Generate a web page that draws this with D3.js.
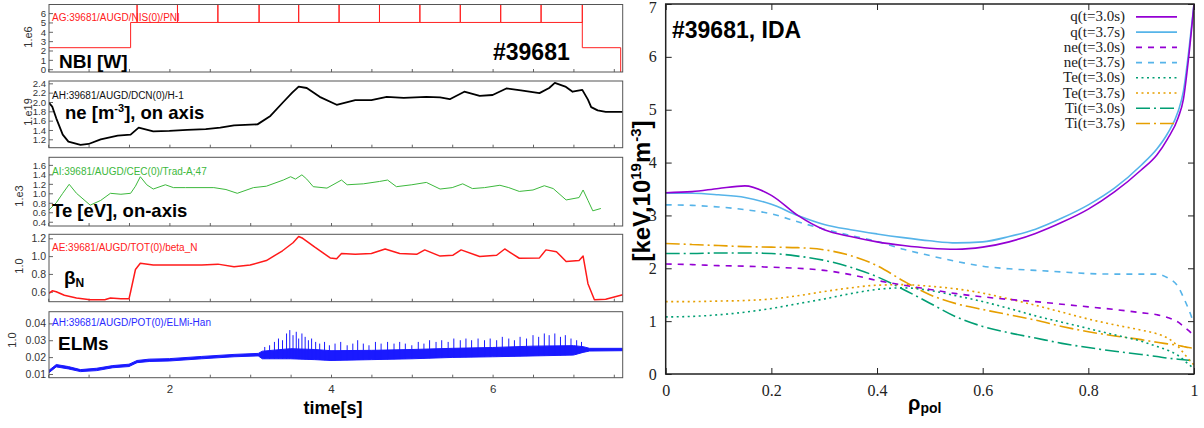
<!DOCTYPE html>
<html><head><meta charset="utf-8">
<script src="https://cdn.jsdelivr.net/npm/d3@7/dist/d3.min.js"></script>
<style>
body{margin:0;background:#fff;}
svg{display:block;}
</style></head>
<body>
<svg id="c" width="1204" height="428"></svg>
<script>
// ---------------- DATA (left: time traces) ----------------
const timeTicks = [2,4,6];
const timeMinor = [0.5,1,1.5,2,2.5,3,3.5,4,4.5,5,5.5,6,6.5,7,7.5];

const nbiTicks = [0,1,2,3,4,5,6];
const nbiStepT = [0.51,1.52,7.11,7.585];
const nbiStepV = [2.3,5.0,2.3,-1];
const nbiSpikeT = [1.6,2.1,2.6,3.11,3.6,4.1,4.6,5.1,5.6,6.1,6.6,7.11];
const nbiSpikeV = [6.95,6.95,6.95,6.95,6.95,6.95,6.95,6.95,6.95,6.95,6.95,6.95];

const neTicks = [1.2,1.4,1.6,1.8,2.0,2.2,2.4];
const neT = [0.51,0.55,0.6,0.68,0.75,0.9,1.0,1.15,1.36,1.52,1.62,1.8,2.0,2.22,2.45,2.63,2.8,3.09,3.25,3.41,3.52,3.6,3.7,3.86,4.07,4.3,4.5,4.69,4.9,5.18,5.35,5.47,5.65,5.84,6.0,6.17,6.35,6.58,6.7,6.77,6.9,6.99,7.11,7.18,7.22,7.3,7.4,7.61];
const neV = [1.98,1.9,1.65,1.3,1.15,1.08,1.1,1.2,1.28,1.3,1.45,1.37,1.38,1.4,1.42,1.45,1.5,1.52,1.7,2.0,2.2,2.33,2.3,2.11,1.94,2.04,2.04,2.11,2.09,2.11,2.1,2.06,2.22,2.13,2.15,2.29,2.25,2.19,2.3,2.41,2.33,2.22,2.26,2.05,1.89,1.82,1.79,1.79];

const teTicks = [0.4,0.6,0.8,1.0,1.2,1.4,1.6];
const teT = [0.51,0.6,0.68,0.76,0.85,1.02,1.15,1.27,1.4,1.52,1.58,1.64,1.72,1.8,1.95,2.05,2.2,2.55,2.7,2.84,3.04,3.2,3.41,3.5,3.56,3.64,3.7,3.78,3.95,4.13,4.2,4.4,4.6,4.7,4.81,5.0,5.18,5.35,5.5,5.63,5.75,5.9,6.09,6.2,6.33,6.5,6.64,6.75,6.91,7.07,7.12,7.18,7.24,7.34];
const teV = [0.65,0.8,1.0,1.19,1.0,0.75,0.85,1.0,0.98,1.0,1.15,1.35,1.18,1.09,1.18,1.12,1.12,1.12,1.08,1.0,1.12,1.15,1.28,1.35,1.3,1.39,1.3,1.14,1.11,1.28,1.18,1.2,1.25,1.28,1.14,1.18,1.23,1.09,1.12,1.2,1.1,1.12,1.17,1.12,1.04,1.07,1.16,1.1,0.86,0.91,1.07,0.85,0.63,0.68];

const betaTicks = [0.6,0.8,1.0,1.2];
const betaT = [0.51,0.55,0.6,0.7,0.85,1.02,1.2,1.27,1.4,1.5,1.52,1.58,1.64,1.8,2.0,2.4,2.6,2.8,3.0,3.2,3.4,3.53,3.6,3.65,3.8,3.99,4.07,4.13,4.3,4.5,4.67,4.85,5.06,5.16,5.35,5.51,5.61,5.84,6.05,6.15,6.33,6.58,6.66,6.79,6.91,7.07,7.12,7.18,7.26,7.4,7.61];
const betaV = [0.58,0.61,0.6,0.56,0.53,0.51,0.51,0.53,0.52,0.52,0.6,0.85,0.92,0.9,0.9,0.9,0.91,0.88,0.9,0.95,1.06,1.15,1.22,1.2,1.1,0.98,0.97,1.03,1.02,1.03,1.08,1.03,1.02,1.07,1.0,1.01,1.07,0.995,1.01,1.08,0.976,0.98,1.07,1.05,0.94,0.95,1.0,0.69,0.51,0.515,0.565];

const elmTicks = [0.01,0.02,0.03,0.04];
const elmT  = [0.51,0.6,0.75,0.9,1.1,1.3,1.5,1.6,1.75,2.0,2.4,2.8,3.1,3.15,3.5,3.8,4.0,4.5,5.0,5.5,6.0,6.5,7.0,7.12,7.2,7.61];
const elmLo = [0.0108,0.0142,0.0130,0.0114,0.0120,0.0137,0.0144,0.0167,0.0174,0.0177,0.0190,0.0202,0.0207,0.0190,0.0190,0.0185,0.0180,0.0185,0.0190,0.0198,0.0202,0.0207,0.0212,0.0228,0.0236,0.0238];
const elmHi = [0.0122,0.0156,0.0144,0.0126,0.0134,0.0150,0.0158,0.0180,0.0188,0.0191,0.0204,0.0216,0.0222,0.0235,0.0250,0.0245,0.0238,0.0240,0.0245,0.0252,0.0257,0.0265,0.0268,0.0262,0.0252,0.0252];
const elmSpkT = [3.18,3.24,3.3,3.35,3.4,3.45,3.49,3.53,3.57,3.6,3.64,3.68,3.72,3.76,3.81,3.86,3.92,3.98,4.05,4.12,4.2,4.27,4.33,4.4,4.47,4.55,4.62,4.7,4.78,4.85,4.92,5.0,5.08,5.15,5.22,5.3,5.37,5.45,5.52,5.6,5.67,5.74,5.82,5.9,5.97,6.05,6.12,6.2,6.27,6.34,6.42,6.5,6.57,6.64,6.7,6.77,6.84,6.9,6.97,7.04,7.1];
const elmSpkV = [0.026,0.027,0.029,0.031,0.030,0.034,0.036,0.033,0.035,0.031,0.034,0.032,0.030,0.031,0.029,0.028,0.029,0.027,0.028,0.029,0.027,0.028,0.030,0.028,0.027,0.029,0.028,0.029,0.028,0.029,0.028,0.027,0.029,0.028,0.030,0.029,0.030,0.029,0.031,0.030,0.031,0.030,0.031,0.030,0.031,0.030,0.032,0.031,0.030,0.032,0.031,0.033,0.032,0.034,0.033,0.034,0.032,0.033,0.031,0.030,0.029];

// ---------------- DATA (right: profiles) ----------------
const rho = [0,0.05,0.1,0.15,0.2,0.25,0.3,0.35,0.4,0.45,0.5,0.55,0.6,0.65,0.7,0.75,0.8,0.85,0.9,0.93,0.95,0.97,0.98,0.99,1.0];
const q30  = [3.43,3.45,3.51,3.56,3.38,3.0,2.73,2.6,2.5,2.43,2.38,2.36,2.4,2.5,2.66,2.87,3.12,3.45,3.86,4.15,4.45,4.85,5.2,6.0,7.0];
const q37  = [3.42,3.42,3.39,3.34,3.21,3.0,2.83,2.73,2.65,2.58,2.52,2.48,2.5,2.6,2.74,2.95,3.2,3.52,3.95,4.26,4.55,4.97,5.35,6.1,7.0];
const ne30 = [2.08,2.07,2.05,2.04,2.02,2.0,1.96,1.88,1.77,1.68,1.6,1.52,1.46,1.41,1.37,1.32,1.27,1.22,1.16,1.12,1.07,0.98,0.9,0.82,0.72];
const ne37 = [3.2,3.19,3.16,3.11,3.03,2.88,2.74,2.62,2.51,2.36,2.24,2.13,2.04,1.99,1.96,1.93,1.9,1.89,1.89,1.89,1.82,1.65,1.45,1.22,0.95];
const te30 = [1.08,1.09,1.12,1.17,1.24,1.33,1.42,1.52,1.6,1.63,1.58,1.48,1.37,1.24,1.1,0.98,0.86,0.74,0.62,0.52,0.45,0.35,0.27,0.18,0.1];
const te37 = [1.37,1.37,1.38,1.39,1.42,1.48,1.56,1.63,1.68,1.69,1.66,1.61,1.53,1.42,1.3,1.17,1.04,0.93,0.83,0.76,0.68,0.52,0.4,0.28,0.17];
const ti30 = [2.28,2.28,2.29,2.29,2.28,2.23,2.15,2.02,1.84,1.6,1.34,1.08,0.9,0.78,0.68,0.58,0.5,0.43,0.37,0.33,0.3,0.28,0.27,0.26,0.25];
const ti37 = [2.47,2.45,2.43,2.41,2.4,2.39,2.35,2.24,2.05,1.76,1.5,1.33,1.22,1.12,1.02,0.9,0.8,0.72,0.65,0.6,0.57,0.54,0.52,0.5,0.49];
const rhoTicks = [0,0.2,0.4,0.6,0.8,1];
const profTicks = [0,1,2,3,4,5,6,7];
const legendLabels = ["q(t=3.0s)","q(t=3.7s)","ne(t=3.0s)","ne(t=3.7s)","Te(t=3.0s)","Te(t=3.7s)","Ti(t=3.0s)","Ti(t=3.7s)"];

// ---------------- DRAW ----------------
const svg = d3.select("#c");
const defs = svg.append("defs");
const sans = "Liberation Sans, Arial, sans-serif";
const L = {x0:49, x1:622.7};
const xT = d3.scaleLinear().domain([0.51,7.61]).range([L.x0, L.x1]);

const panels = [
  {id:"p1", y0:4.5,  y1:72,    dom:[-0.3,6.92],   ticks:nbiTicks,  fmt:d3.format("d"),   exp:"1.e6",  expX:32, expY:37},
  {id:"p2", y0:81,   y1:147.7, dom:[1.02,2.45],   ticks:neTicks,   fmt:d3.format(".1f"), exp:"1.e19", expX:32, expY:112},
  {id:"p3", y0:157.3,y1:226,   dom:[0.31,1.76],   ticks:teTicks,   fmt:d3.format(".1f"), exp:"1.e3",  expX:23, expY:196},
  {id:"p4", y0:234.3,y1:301.7, dom:[0.488,1.245], ticks:betaTicks, fmt:d3.format(".1f"), exp:"1.0",   expX:23, expY:266},
  {id:"p5", y0:311.7,y1:377.7, dom:[0.0078,0.0469],ticks:elmTicks, fmt:d3.format(".2f"), exp:"1.0",   expX:16, expY:340}
];

panels.forEach((p,i)=>{
  p.y = d3.scaleLinear().domain(p.dom).range([p.y1,p.y0]);
  defs.append("clipPath").attr("id","clip"+p.id).append("rect")
    .attr("x",L.x0).attr("y",p.y0).attr("width",L.x1-L.x0).attr("height",p.y1-p.y0);
  p.g = svg.append("g");
  const ax = d3.axisBottom(xT).tickValues(timeMinor).tickSizeInner(-3).tickSizeOuter(0).tickFormat("");
  const gx = p.g.append("g").attr("transform",`translate(0,${p.y1})`).call(ax);
  gx.select(".domain").remove();
  gx.selectAll("line").attr("stroke","#666");
  const ay = d3.axisLeft(p.y).tickValues(p.ticks).tickSizeInner(-4).tickSizeOuter(0).tickPadding(3).tickFormat(p.fmt);
  const gy = p.g.append("g").attr("transform",`translate(${L.x0},0)`).call(ay);
  gy.select(".domain").remove();
  gy.selectAll("line").attr("stroke","#666");
  gy.selectAll("text").attr("font-family",sans).attr("font-size",p.ticks.length>5?9.6:10.5).attr("fill","#333")
    .attr("dy","0.34em");
  svg.append("text").attr("transform",`translate(${p.expX},${p.expY}) rotate(-90)`).attr("text-anchor","middle")
    .attr("font-family",sans).attr("font-size",11).attr("fill","#333").text(p.exp);
  p.plot = p.g.append("g").attr("clip-path",`url(#clip${p.id})`);
});

const gt = svg.append("g").attr("transform",`translate(0,${panels[4].y1})`)
  .call(d3.axisBottom(xT).tickValues(timeTicks).tickSize(0).tickPadding(7).tickFormat(d3.format("d")));
gt.select(".domain").remove();
gt.selectAll("text").attr("font-family",sans).attr("font-size",11.5).attr("fill","#333");
svg.append("text").attr("x",333).attr("y",414).attr("text-anchor","middle")
  .attr("font-family",sans).attr("font-weight","bold").attr("font-size",18).text("time[s]");

// Panel 1 NBI (step + spikes)
{
  const p = panels[0];
  const pts = [];
  for (let k=0;k<nbiStepT.length-1;k++){
    pts.push([nbiStepT[k], nbiStepV[k]]);
    nbiSpikeT.forEach((t,j)=>{
      if (t>nbiStepT[k] && t<nbiStepT[k+1]) {
        pts.push([t,nbiStepV[k]],[t,nbiSpikeV[j]],[t,nbiStepV[k]]);
      }
    });
    if (k===1) {
      const j = nbiSpikeT.length-1;
      pts.push([nbiSpikeT[j],nbiStepV[k]],[nbiSpikeT[j],nbiSpikeV[j]]);
    } else {
      pts.push([nbiStepT[k+1], nbiStepV[k]]);
    }
  }
  pts.push([nbiStepT[nbiStepT.length-1], nbiStepV[nbiStepV.length-1]]);
  p.plot.append("path").datum(pts).attr("fill","none").attr("stroke","#ff2020").attr("stroke-width",1)
    .attr("d", d3.line().x(d=>xT(d[0])).y(d=>p.y(d[1])));
}
function trace(p, T, V, color, w){
  p.plot.append("path").datum(T.map((t,i)=>[t,V[i]])).attr("fill","none").attr("stroke",color)
    .attr("stroke-width",w).attr("stroke-linejoin","round")
    .attr("d", d3.line().x(d=>xT(d[0])).y(d=>p.y(d[1])));
}
trace(panels[1], neT, neV, "#000", 1.8);
trace(panels[2], teT, teV, "#3cb83c", 1);
trace(panels[3], betaT, betaV, "#ff1a1a", 1.5);
{
  const p = panels[4];
  p.plot.append("path").datum(elmT.map((t,i)=>[t,elmLo[i],elmHi[i]]))
    .attr("fill","#1a1aff").attr("stroke","#1a1aff").attr("stroke-width",1)
    .attr("d", d3.area().x(d=>xT(d[0])).y0(d=>p.y(d[1])).y1(d=>p.y(d[2])));
  const lo = d3.scaleLinear().domain(elmT).range(elmLo);
  p.plot.selectAll("line.spk").data(elmSpkT.map((t,i)=>[t,elmSpkV[i]])).join("line")
    .attr("x1",d=>xT(d[0])).attr("x2",d=>xT(d[0]))
    .attr("y1",d=>p.y(lo(d[0]))).attr("y2",d=>p.y(d[1]))
    .attr("stroke","#1a1aff").attr("stroke-width",1);
}
panels.forEach(p=>{
  svg.append("rect").attr("x",L.x0).attr("y",p.y0).attr("width",L.x1-L.x0).attr("height",p.y1-p.y0)
    .attr("fill","none").attr("stroke","#555").attr("stroke-width",1);
});

function small(y, txt, col){
  svg.append("text").attr("x",52).attr("y",y).attr("font-family",sans).attr("font-size",10).attr("fill",col).text(txt);
}
small(21, "AG:39681/AUGD/NIS(0)/PNI", "#ff2020");
small(99, "AH:39681/AUGD/DCN(0)/H-1", "#111");
small(175, "AI:39681/AUGD/CEC(0)/Trad-A;47", "#3cb83c");
small(251, "AE:39681/AUGD/TOT(0)/beta_N", "#ff2020");
small(326, "AH:39681/AUGD/POT(0)/ELMi-Han", "#2a2aff");
function big(x,y,size){
  return svg.append("text").attr("x",x).attr("y",y).attr("font-family",sans).attr("font-weight","bold").attr("font-size",size);
}
big(59,68,19).text("NBI [W]");
big(493,60,23).text("#39681");
{
  const t = big(65,119,18.5);
  t.append("tspan").text("ne [m");
  t.append("tspan").attr("font-size",11).attr("dy",-7).text("-3");
  t.append("tspan").attr("dy",7).text("], on axis");
}
big(52,217,18.5).text("Te [eV], on-axis");
{
  const t = big(64,284,19);
  t.append("tspan").text("β");
  t.append("tspan").attr("font-size",12).attr("dy",3).text("N");
}
big(58,350,19).text("ELMs");

// ---------------- RIGHT CHART ----------------
const R = {x0:665.7, x1:1194, y0:4, y1:374};
const xR = d3.scaleLinear().domain([0,1]).range([R.x0,R.x1]);
const yR = d3.scaleLinear().domain([0,7]).range([R.y1,R.y0]);
const serif = "Liberation Serif, Times New Roman, serif";
defs.append("clipPath").attr("id","clipR").append("rect")
  .attr("x",R.x0).attr("y",R.y0).attr("width",R.x1-R.x0).attr("height",R.y1-R.y0);

const gR = svg.append("g");
[[d3.axisBottom(xR).tickValues(rhoTicks).tickSizeInner(-6).tickSizeOuter(0).tickPadding(11).tickFormat(d=>d===0||d===1?String(d):d3.format(".1f")(d)), `translate(0,${R.y1})`, true],
 [d3.axisTop(xR).tickValues(rhoTicks).tickSizeInner(-6).tickSizeOuter(0).tickFormat(""), `translate(0,${R.y0})`, false],
 [d3.axisLeft(yR).tickValues(profTicks).tickSizeInner(-6).tickSizeOuter(0).tickPadding(9).tickFormat(d3.format("d")), `translate(${R.x0},0)`, true],
 [d3.axisRight(yR).tickValues(profTicks).tickSizeInner(-6).tickSizeOuter(0).tickFormat(""), `translate(${R.x1},0)`, false]
].forEach(([ax,tr,lab])=>{
  const g = gR.append("g").attr("transform",tr).call(ax);
  g.select(".domain").remove();
  g.selectAll("line").attr("stroke","#222").attr("stroke-width",1);
  if (lab) g.selectAll("text").attr("font-family",serif).attr("font-size",16).attr("fill","#222");
});
// keep the top "7" label inside the page
gR.selectAll(".tick text").filter(d=>d===7).attr("dy","0.55em");

const series = [
  {v:q30,  c:"#9400D3", dash:null},
  {v:q37,  c:"#56B4E9", dash:null},
  {v:ne30, c:"#9400D3", dash:"6,6"},
  {v:ne37, c:"#56B4E9", dash:"6,6"},
  {v:te30, c:"#009E73", dash:"2,3.5"},
  {v:te37, c:"#E69F00", dash:"2,3.5"},
  {v:ti30, c:"#009E73", dash:"14,4,2,4"},
  {v:ti37, c:"#E69F00", dash:"14,4,2,4"}
];
const plotR = gR.append("g").attr("clip-path","url(#clipR)");
const lineR = d3.line().x(d=>xR(d[0])).y(d=>yR(d[1])).curve(d3.curveMonotoneX);
series.slice().reverse().forEach(s=>{
  plotR.append("path").datum(rho.map((r,i)=>[r,s.v[i]])).attr("fill","none")
    .attr("stroke",s.c).attr("stroke-width",1.6).attr("stroke-dasharray",s.dash)
    .attr("d",lineR);
});
gR.append("rect").attr("x",R.x0).attr("y",R.y0).attr("width",R.x1-R.x0).attr("height",R.y1-R.y0)
  .attr("fill","none").attr("stroke","#222").attr("stroke-width",1.5);

series.forEach((s,i)=>{
  const y = 16.9 + i*15.23;
  gR.append("text").attr("x",1125).attr("y",y+4.5).attr("text-anchor","end")
    .attr("font-family",serif).attr("font-size",15).attr("fill","#222").text(legendLabels[i]);
  gR.append("line").attr("x1",1136).attr("x2",1177).attr("y1",y).attr("y2",y)
    .attr("stroke",s.c).attr("stroke-width",1.6).attr("stroke-dasharray",s.dash);
});

svg.append("text").attr("x",672).attr("y",38).attr("font-family",sans).attr("font-weight","bold")
  .attr("font-size",23).text("#39681, IDA");
{
  const t = svg.append("text").attr("transform","translate(650,191) rotate(-90)").attr("text-anchor","middle")
    .attr("font-family",sans).attr("font-weight","bold").attr("font-size",24);
  t.append("tspan").text("[keV,10");
  t.append("tspan").attr("font-size",15).attr("dy",-9).text("19");
  t.append("tspan").attr("dy",9).text("m");
  t.append("tspan").attr("font-size",15).attr("dy",-9).text("-3");
  t.append("tspan").attr("dy",9).text("]");
}
{
  const t = svg.append("text").attr("x",908).attr("y",410).attr("font-family",sans).attr("font-weight","bold").attr("font-size",20);
  t.append("tspan").text("ρ");
  t.append("tspan").attr("font-size",14).attr("dy",3).text("pol");
}
</script>
</body></html>
